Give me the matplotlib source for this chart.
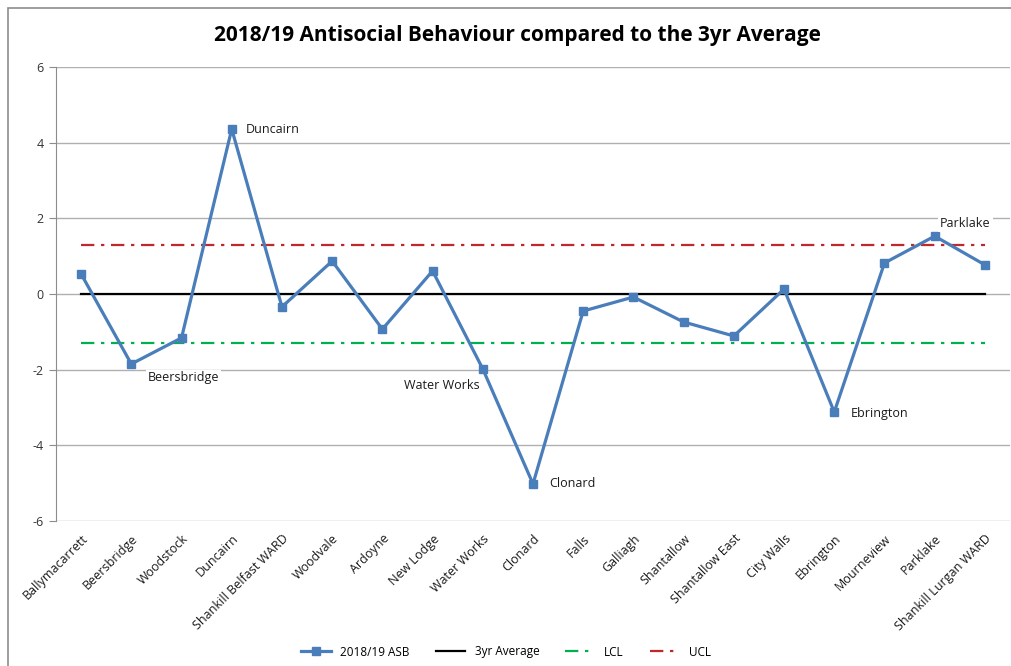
import matplotlib
matplotlib.use("Agg")
import matplotlib.pyplot as plt
from matplotlib.patches import Rectangle

plt.rcParams['font.family'] = ['Open Sans', 'DejaVu Sans']

categories = ["Ballymacarrett", "Beersbridge", "Woodstock", "Duncairn", "Shankill Belfast WARD",
              "Woodvale", "Ardoyne", "New Lodge", "Water Works", "Clonard", "Falls", "Galliagh",
              "Shantallow", "Shantallow East", "City Walls", "Ebrington", "Mourneview", "Parklake",
              "Shankill Lurgan WARD"]
asb = [0.53, -1.85, -1.16, 4.36, -0.34, 0.87, -0.93, 0.61, -1.98, -5.02, -0.45, -0.08,
       -0.74, -1.11, 0.13, -3.12, 0.82, 1.53, 0.77]
avg3yr = [0.0] * len(categories)
lcl = [-1.30] * len(categories)
ucl = [1.30] * len(categories)
yticks = [-6, -4, -2, 0, 2, 4, 6]
labelled = {"Duncairn": (10, 0, 'left', 'center'),
            "Beersbridge": (12, -10, 'left', 'center'),
            "Water Works": (-2, -12, 'right', 'center'),
            "Clonard": (12, 0, 'left', 'center'),
            "Ebrington": (12, -1, 'left', 'center'),
            "Parklake": (4, 9, 'left', 'center')}

fig = plt.figure(figsize=(10.12, 6.66), dpi=100)
fig.patches.append(Rectangle((8/1012, -0.1), 1.2, 1 - 8/666 + 0.1, transform=fig.transFigure,
                             fill=False, edgecolor='#8c8c8c', linewidth=1.2))
ax = fig.add_axes([56/1012, 1 - 521/666, 954/1012, 454/666])
x = list(range(len(categories)))

ax.plot(x, asb, color='#4A7EBB', linewidth=2.3, marker='s', markersize=6,
        markerfacecolor='#4A7EBB', markeredgecolor='#4A7EBB', label='2018/19 ASB', zorder=5)
ax.plot(x, avg3yr, color='black', linewidth=1.6, label='3yr Average', zorder=4)
ax.plot(x, lcl, color='#00B050', linewidth=1.6, linestyle=(0, (6, 3, 1.5, 3)), label='LCL', zorder=4)
ax.plot(x, ucl, color='#C0282D', linewidth=1.6, linestyle=(0, (6, 3, 1.5, 3)), label='UCL', zorder=4)

for name, (dx, dy, ha, va) in labelled.items():
    i = categories.index(name)
    ax.annotate(name, (i, asb[i]), xytext=(dx, dy), textcoords='offset points',
                ha=ha, va=va, fontsize=9, color='#1a1a1a', zorder=6,
                bbox=dict(boxstyle='square,pad=0.15', facecolor='white', edgecolor='none'))

ax.set_xlim(-0.5, len(categories) - 0.5)
ax.set_ylim(-6, 6)
ax.set_yticks(yticks)
ax.set_yticklabels([str(t) for t in yticks], fontsize=9, color='#333333')
ax.yaxis.grid(True, color='#b0b0b0', linewidth=1)
ax.set_axisbelow(True)
ax.set_xticks(x)
ax.set_xticklabels(categories, rotation=45, ha='right', rotation_mode='anchor', fontsize=9,
                   color='#1a1a1a')
ax.tick_params(axis='x', length=0, pad=8)
ax.tick_params(axis='y', length=5, color='#8c8c8c', pad=4)
for s in ['top', 'right', 'bottom']:
    ax.spines[s].set_visible(False)
ax.spines['left'].set_color('#8c8c8c')

fig.text(517/1012, 1 - 36/666, "2018/19 Antisocial Behaviour compared to the 3yr Average",
         ha='center', va='center', fontsize=15, fontweight='bold', color='black')

handles, labels = ax.get_legend_handles_labels()
fig.legend(handles, labels, loc='center', bbox_to_anchor=(0.5, 1 - 652/666), ncol=4,
           frameon=False, fontsize=8.5, handlelength=2.5, columnspacing=2.2)

fig.savefig('out.png', dpi=100)
